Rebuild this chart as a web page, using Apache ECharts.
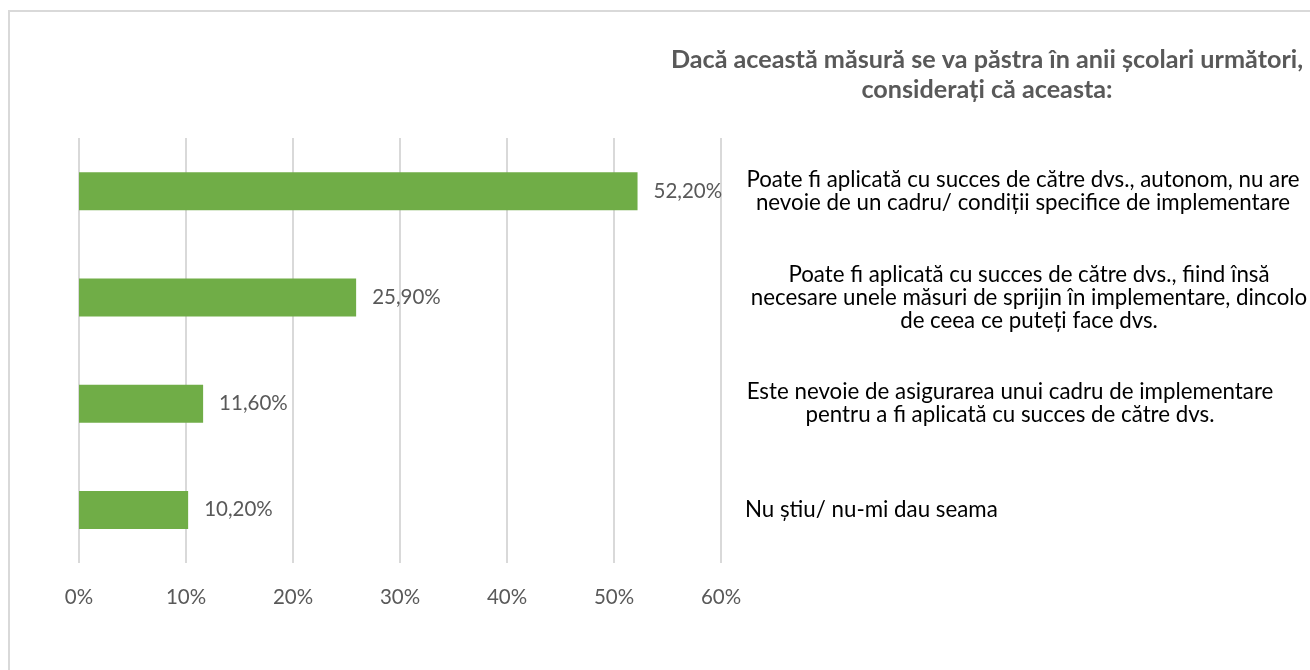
<!DOCTYPE html>
<html>
<head>
<meta charset="utf-8">
<script src="https://cdn.jsdelivr.net/npm/echarts@6/dist/echarts.min.js"></script>
<style>
  html, body { margin: 0; padding: 0; background: #fff; }
  #frame {
    position: absolute; left: 8px; top: 10px; width: 1310px; height: 670px;
    border-top: 2px solid #d9d9d9; border-left: 2px solid #d9d9d9;
  }
  #chart { position: absolute; left: 0; top: 0; width: 1310px; height: 670px; }
</style>
</head>
<body>
<div id="frame"></div>
<div id="chart"></div>
<script>
var categories = [
  'Poate fi aplicată cu succes de către dvs., autonom, nu are\nnevoie de un cadru/ condiții specifice de implementare',
  'Poate fi aplicată cu succes de către dvs., fiind însă\nnecesare unele măsuri de sprijin în implementare, dincolo\nde ceea ce puteți face dvs.',
  'Este nevoie de asigurarea unui cadru de implementare\npentru a fi aplicată cu succes de către dvs.',
  'Nu știu/ nu-mi dau seama'
];
var values = [52.2, 25.9, 11.6, 10.2];
var xTicks = [0, 10, 20, 30, 40, 50, 60];

var chartDom = document.getElementById('chart');
var myChart = echarts.init(chartDom);
var font = 'Lato';
var option;

option = {
  animation: false,
  title: {
    text: 'Dacă această măsură se va păstra în anii școlari următori,\nconsiderați că aceasta:',
    left: 982,
    top: 40,
    textAlign: 'center',
    textStyle: {
      fontFamily: font,
      fontSize: 25.2,
      fontWeight: 'bold',
      color: '#595959',
      lineHeight: 30
    }
  },
  grid: {
    left: 79,
    right: 589,
    top: 138,
    height: 425,
    containLabel: false,
    outerBoundsMode: 'none'
  },
  xAxis: {
    type: 'value',
    min: xTicks[0],
    max: xTicks[xTicks.length - 1],
    interval: 10,
    axisLine: { show: false },
    axisTick: { show: false },
    splitLine: { lineStyle: { color: '#d9d9d9', width: 2 } },
    axisLabel: {
      margin: 24,
      fontFamily: font,
      fontSize: 20.5,
      color: '#595959',
      formatter: '{value}%'
    }
  },
  yAxis: {
    type: 'category',
    inverse: true,
    position: 'right',
    data: categories,
    axisLine: { show: false },
    axisTick: { show: false },
    axisLabel: {
      margin: 24,
      align: 'left',
      formatter: function (value, index) {
        return value.split('\n').map(function (l) {
          return '{c' + index + '|' + l + '}';
        }).join('\n');
      },
      rich: {
        c0: { width: 556, align: 'center', fontFamily: font, fontSize: 22.3, lineHeight: 23, color: '#000' },
        c1: { width: 568, align: 'center', fontFamily: font, fontSize: 22.3, lineHeight: 23, color: '#000' },
        c2: { width: 530, align: 'center', fontFamily: font, fontSize: 22.3, lineHeight: 23, color: '#000' },
        c3: { align: 'left', fontFamily: font, fontSize: 22.3, lineHeight: 23, color: '#000' }
      }
    }
  },
  series: [
    {
      type: 'bar',
      data: values,
      barWidth: 38,
      itemStyle: { color: '#70ad47' },
      label: {
        show: true,
        position: 'right',
        distance: 16,
        fontFamily: font,
        fontSize: 20.5,
        color: '#595959',
        formatter: function (p) {
          return p.value.toFixed(2).replace('.', ',') + '%';
        }
      }
    }
  ]
};

option && myChart.setOption(option);
</script>
</body>
</html>
